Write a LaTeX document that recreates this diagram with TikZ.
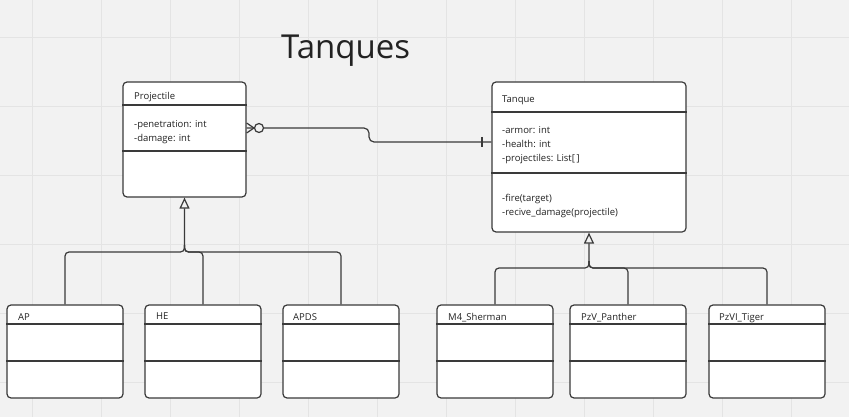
\documentclass[tikz,border=0pt]{standalone}
\usepackage{fontspec}
\setmainfont{Open Sans}
\usepackage{tikz}
\usetikzlibrary{arrows.meta}
\usetikzlibrary{positioning}
\definecolor{bgc}{HTML}{F2F2F2}
\definecolor{gridc}{HTML}{E4E4E4}
\definecolor{linec}{HTML}{3A3A3A}
\definecolor{txtc}{HTML}{222222}
\tikzstyle{cls}=[draw=linec, fill=white, rounded corners=4pt, line width=1.2pt, inner sep=0pt]
\tikzstyle{div}=[draw=linec, line width=1.2pt]
\tikzstyle{txt}=[anchor=north west, inner sep=0pt, align=left, text=txtc, font=\fontsize{9.5}{14}\selectfont]
\tikzstyle{rel}=[draw=linec, line width=1.2pt]
\tikzstyle{inh}=[draw=linec, line width=1.2pt, rounded corners=4pt]
\tikzstyle{sub}=[cls, minimum width=116pt, minimum height=93pt]

\begin{document}
\begin{tikzpicture}[x=1pt, y=-1pt]
    \useasboundingbox (0,0) rectangle (849,417);
    \fill [bgc] (0,0) rectangle (849,417);
    \foreach \x in {32,101,...,791} \draw [gridc, line width=0.8pt] (\x,0) -- (\x,417);
    \foreach \y in {37,106,...,382} \draw [gridc, line width=0.8pt] (0,\y) -- (849,\y);

    \node [anchor=base west, inner sep=0pt, text=txtc, font=\fontsize{33}{40}\selectfont] (title) at (281,59) {Tanques};

    % parent classes
    \node [cls, minimum width=123pt, minimum height=115pt] (P) at (184.5,139.5) {};
    \node [cls, minimum width=194pt, minimum height=150pt] (T) at (589,157) {};
    \draw [div] (P.west |- 0,105) -- (P.east |- 0,105);
    \draw [div] (P.west |- 0,151) -- (P.east |- 0,151);
    \draw [div] (T.west |- 0,112) -- (T.east |- 0,112);
    \draw [div] (T.west |- 0,173) -- (T.east |- 0,173);
    \node [txt] (Pn) at (134,92.5) {Projectile};
    \node [txt] (Pa) at (134,120) {-penetration: int\\-damage: int};
    \node [txt] (Tn) at (502,95.5) {Tanque};
    \node [txt] (Ta) at (502,126.5) {-armor: int\\-health: int\\-projectiles: List[\,]};
    \node [txt] (Tm) at (502,194.5) {-fire(target)\\-recive\_damage(projectile)};

    % subclasses
    \node [sub] (AP)   at (65,351.5)  {};
    \node [sub] (HE)   at (203,351.5) {};
    \node [sub] (APDS) at (341,351.5) {};
    \node [sub] (M4)   at (495,351.5) {};
    \node [sub] (PzV)  at (628,351.5) {};
    \node [sub] (PzVI) at (767,351.5) {};
    \foreach \n in {AP,HE,APDS,M4,PzV,PzVI} {
        \draw [div] (\n.west |- 0,324) -- (\n.east |- 0,324);
        \draw [div] (\n.west |- 0,361) -- (\n.east |- 0,361);
    }
    \node [txt] at (18,313)  {AP};
    \node [txt] at (156,313) {HE};
    \node [txt] at (293,313) {APDS};
    \node [txt] at (448,313) {M4\_Sherman};
    \node [txt] at (581,313) {PzV\_Panther};
    \node [txt] at (719,313) {PzVI\_Tiger};

    % association: zero or many -- one
    \draw [rel, rounded corners=5pt] (P.east |- 0,128) -- (369,128) -- (369,142) -- (T.west |- 0,142);
    \draw [rel] (P.east |- 0,123) -- (254,128) -- (P.east |- 0,133);
    \draw [rel, fill=bgc] (259,128) circle (4.5pt);
    \draw [rel] (482,137) -- (482,147);

    % inheritance
    \draw [inh, -{Triangle[open, length=11pt, width=10pt]}] (HE.north) |- (P.south |- 0,252) -- (P.south);
    \draw [inh] (AP.north) |- (P.south |- 0,252) -- (P.south |- 0,245);
    \draw [inh] (APDS.north) |- (P.south |- 0,252) -- (P.south |- 0,245);
    \draw [inh, -{Triangle[open, length=11pt, width=10pt]}] (PzV.north) |- (T.south |- 0,268) -- (T.south);
    \draw [inh] (M4.north) |- (T.south |- 0,268) -- (T.south |- 0,261);
    \draw [inh] (PzVI.north) |- (T.south |- 0,268) -- (T.south |- 0,261);
\end{tikzpicture}
\end{document}
